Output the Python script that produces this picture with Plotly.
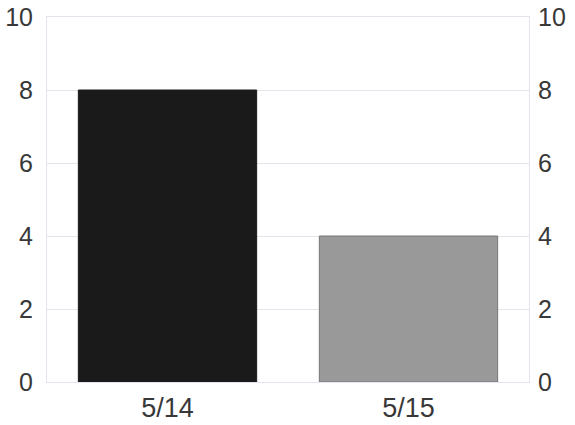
import plotly.graph_objects as go

categories = ["5/14", "5/15"]
values = [8, 4]
bar_colors = ["#1a1a1a", "#999999"]
line_colors = ["#1a1a1a", "#777777"]
tick_vals = [0, 2, 4, 6, 8, 10]

fig = go.Figure()
fig.add_trace(go.Bar(x=categories, y=values,
                     marker=dict(color=bar_colors, line=dict(color=line_colors, width=1)),
                     showlegend=False))
fig.add_trace(go.Scatter(x=categories, y=values, yaxis="y2", mode="markers",
                         marker=dict(opacity=0), showlegend=False, hoverinfo="skip"))

yfont = dict(family="Liberation Sans, Arial, sans-serif", size=25, color="#383838")
xfont = dict(family="Liberation Sans, Arial, sans-serif", size=27, color="#383838")
grid = "#e4e4ec"
fig.update_layout(
    width=575, height=425,
    margin=dict(l=47, r=46, t=17, b=43),
    paper_bgcolor="white", plot_bgcolor="white",
    bargap=0.26,
    font=yfont,
    xaxis=dict(showgrid=False, showline=True, linecolor=grid, linewidth=1, mirror=True,
               ticks="", tickfont=xfont, automargin=False, ticklabelstandoff=2),
    yaxis=dict(range=[0, 10], tickvals=tick_vals, gridcolor=grid, gridwidth=1,
               zeroline=False, showline=True, linecolor=grid, linewidth=1, mirror=True,
               ticks="", tickfont=yfont, ticklabelstandoff=8, automargin=False),
    yaxis2=dict(range=[0, 10], tickvals=tick_vals, overlaying="y", side="right",
                showgrid=False, zeroline=False, showline=False, ticks="",
                tickfont=yfont, ticklabelstandoff=8, automargin=False),
)
fig.write_html("out.html", config={"displayModeBar": False},
               post_script="document.body.style.margin='0';")
